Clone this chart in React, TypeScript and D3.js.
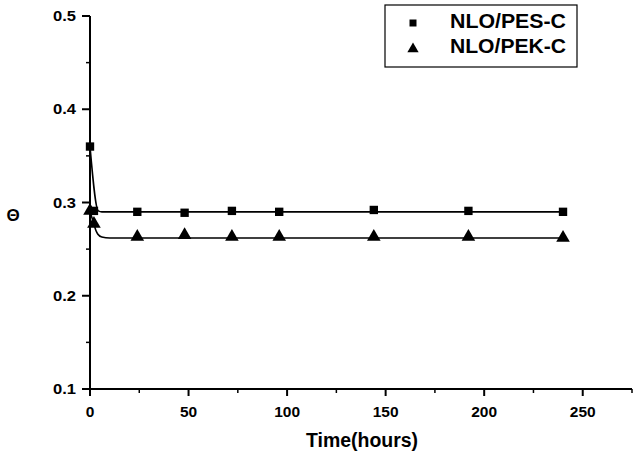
import React, {useEffect, useRef} from 'react';
import * as d3 from 'd3';

// measured points (time in hours, theta)
const pesTime = [0, 2, 24, 48, 72, 96, 144, 192, 240];
const pesTheta = [0.36, 0.291, 0.29, 0.289, 0.291, 0.29, 0.292, 0.291, 0.29];
const pekTime = [0, 2, 24, 48, 72, 96, 144, 192, 240];
const pekTheta = [0.29, 0.276, 0.262, 0.264, 0.262, 0.262, 0.262, 0.262, 0.261];

// fitted curves
const pesFitTime = [0, 4.2, 6, 240];
const pesFitTheta = [0.36, 0.291, 0.29, 0.29];
const pekFitTime = [0, 2, 3, 4, 6, 10, 240];
const pekFitTheta = [0.29, 0.277, 0.27, 0.266, 0.263, 0.262, 0.262];

const xTicks = [0, 50, 100, 150, 200, 250];
const xMinor = [25, 75, 125, 175, 225, 275];
const yTicks = [0.1, 0.2, 0.3, 0.4, 0.5];
const yMinor = [0.15, 0.25, 0.35, 0.45];

const seriesNames = ['NLO/PES-C', 'NLO/PEK-C'];

export default function App() {
    const svgRef = useRef<SVGSVGElement>(null);

    const width = 633,
          height = 458;

    useEffect(() => {
        const svg = d3.select(svgRef.current);
        svg.selectAll('*').remove();

        const x = d3.scaleLinear().domain([0, 275]).range([90, 632]);
        const y = d3.scaleLinear().domain([0.1, 0.5]).range([389, 16]);

        const font = "'Liberation Sans', Arial, sans-serif";
        const ink = '#000';

        // Y axis
        svg.append('line')
            .attr('x1', x(0)).attr('x2', x(0))
            .attr('y1', y(0.5)).attr('y2', y(0.1) + 5)
            .attr('stroke', ink).attr('stroke-width', 2);
        svg.append('g').selectAll('line').data(yTicks).enter().append('line')
            .attr('x1', x(0) - 8).attr('x2', x(0))
            .attr('y1', d => y(d)).attr('y2', d => y(d))
            .attr('stroke', ink).attr('stroke-width', 2);
        svg.append('g').selectAll('line').data(yMinor).enter().append('line')
            .attr('x1', x(0) - 4).attr('x2', x(0))
            .attr('y1', d => y(d)).attr('y2', d => y(d))
            .attr('stroke', ink).attr('stroke-width', 1.5);
        svg.append('g').selectAll('text').data(yTicks).enter().append('text')
            .attr('x', 76).attr('y', d => y(d) + 5)
            .attr('text-anchor', 'end')
            .attr('textLength', 23).attr('lengthAdjust', 'spacingAndGlyphs')
            .style('font-family', font).style('font-weight', 'bold').style('font-size', '15px')
            .text(d => d.toFixed(1));

        // X axis
        svg.append('line')
            .attr('x1', x(0)).attr('x2', x(275))
            .attr('y1', y(0.1)).attr('y2', y(0.1))
            .attr('stroke', ink).attr('stroke-width', 2);
        svg.append('g').selectAll('line').data(xTicks).enter().append('line')
            .attr('x1', d => x(d)).attr('x2', d => x(d))
            .attr('y1', y(0.1)).attr('y2', y(0.1) + 7)
            .attr('stroke', ink).attr('stroke-width', 2);
        svg.append('g').selectAll('line').data(xMinor).enter().append('line')
            .attr('x1', d => x(d)).attr('x2', d => x(d))
            .attr('y1', y(0.1)).attr('y2', y(0.1) + 4)
            .attr('stroke', ink).attr('stroke-width', 1.5);
        svg.append('g').selectAll('text').data(xTicks).enter().append('text')
            .attr('x', d => x(d)).attr('y', 417)
            .attr('text-anchor', 'middle')
            .style('font-family', font).style('font-weight', 'bold').style('font-size', '15.5px')
            .text(d => d);

        // Axis titles
        svg.append('text')
            .attr('x', 362).attr('y', 447)
            .attr('text-anchor', 'middle')
            .attr('textLength', 112).attr('lengthAdjust', 'spacingAndGlyphs')
            .style('font-family', font).style('font-weight', 'bold').style('font-size', '20px')
            .text('Time(hours)');
        svg.append('text')
            .attr('x', 13).attr('y', 221)
            .attr('text-anchor', 'middle')
            .style('font-family', font).style('font-weight', 'bold').style('font-size', '17px')
            .text('\u0398');

        // Fitted curves
        const line = d3.line<[number, number]>()
            .x(d => x(d[0]))
            .y(d => y(d[1]))
            .curve(d3.curveMonotoneX);

        const pesFit = pesFitTime.map((t, i) => [t, pesFitTheta[i]] as [number, number]);
        const pekFit = pekFitTime.map((t, i) => [t, pekFitTheta[i]] as [number, number]);

        svg.append('path').datum(pesFit)
            .attr('d', line)
            .attr('fill', 'none').attr('stroke', ink).attr('stroke-width', 1.6);
        svg.append('path').datum(pekFit)
            .attr('d', line)
            .attr('fill', 'none').attr('stroke', ink).attr('stroke-width', 1.6);

        // Markers
        const square = d3.symbol().type(d3.symbolSquare).size(70);
        const triangle = d3.symbol().type(d3.symbolTriangle).size(80);

        svg.append('g').selectAll('path')
            .data(pesTime.map((t, i) => [t, pesTheta[i]]))
            .enter().append('path')
            .attr('d', square)
            .attr('transform', d => `translate(${x(d[0])},${y(d[1])})`)
            .attr('fill', ink);
        svg.append('g').selectAll('path')
            .data(pekTime.map((t, i) => [t, pekTheta[i]]))
            .enter().append('path')
            .attr('d', triangle)
            .attr('transform', d => `translate(${x(d[0])},${y(d[1]) - 1})`)
            .attr('fill', ink);

        // Legend
        svg.append('rect')
            .attr('x', 385).attr('y', 5).attr('width', 192).attr('height', 62)
            .attr('fill', 'white').attr('stroke', ink).attr('stroke-width', 1.2);
        svg.append('path').attr('d', d3.symbol().type(d3.symbolSquare).size(49)())
            .attr('transform', 'translate(413,23)').attr('fill', ink);
        svg.append('path').attr('d', d3.symbol().type(d3.symbolTriangle).size(55)())
            .attr('transform', 'translate(413,49)').attr('fill', ink);
        svg.append('g').selectAll('text').data(seriesNames).enter().append('text')
            .attr('x', 450).attr('y', (d, i) => 28 + i * 25)
            .attr('textLength', 116).attr('lengthAdjust', 'spacingAndGlyphs')
            .style('font-family', font).style('font-weight', 'bold').style('font-size', '20px')
            .text(d => d);
    });

    return (
        <div>
            <svg ref={svgRef} width={width} height={height}
                 style={{position: 'absolute', left: 0, top: 0, background: 'white'}}/>
        </div>
    );
}
